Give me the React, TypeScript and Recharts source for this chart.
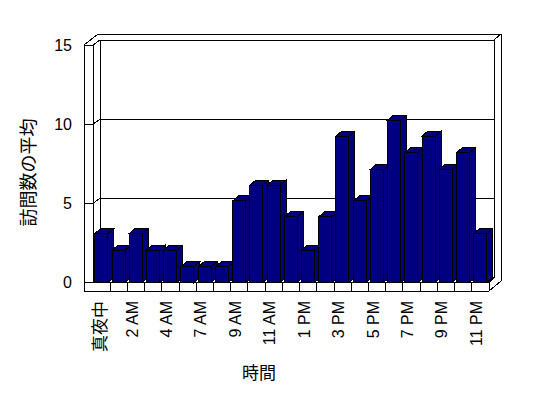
import React from 'react'
import { BarChart, Bar, XAxis, YAxis, ReferenceLine } from 'recharts'

// 時間帯 (6 AM は元データに無い)
const HOURS = [
  '真夜中', '1 AM', '2 AM', '3 AM', '4 AM', '5 AM', '7 AM', '8 AM', '9 AM', '10 AM', '11 AM', '正午',
  '1 PM', '2 PM', '3 PM', '4 PM', '5 PM', '6 PM', '7 PM', '8 PM', '9 PM', '10 PM', '11 PM',
]
const VISITS = [
  3.1, 2.05, 3.1, 2.05, 2.05, 1.0, 1.0, 1.0, 5.15, 6.15, 6.15, 4.15,
  2.05, 4.15, 9.25, 5.15, 7.15, 10.25, 8.2, 9.25, 7.15, 8.2, 3.1,
]
const Y_TICKS = [0, 5, 10, 15]

const data = HOURS.map((hour, i) => ({ hour, value: VISITS[i] }))

const W = 548
const H = 398
const PLOT = { left: 93, top: 45, right: 489, bottom: 282.5 }
const NAVY = '#000080'
const FONT = "'Liberation Sans', Arial, 'Noto Sans CJK JP', sans-serif"
const WALL = 9 // left wall thickness
const DX = 7
const DY = 5

const Bar3D = (props: any) => {
  const { x, y, width, height } = props
  if (!height || height <= 0) return null
  const dx = 6
  const dy = 5
  return (
    <g stroke="#000" strokeWidth={1} fill={NAVY} shapeRendering="crispEdges">
      <polygon points={`${x},${y} ${x + dx},${y - dy} ${x + width + dx},${y - dy} ${x + width},${y}`} />
      <polygon
        points={`${x + width},${y} ${x + width + dx},${y - dy} ${x + width + dx},${y + height - dy} ${x + width},${y + height}`}
      />
      <rect x={x} y={y} width={width} height={height} />
    </g>
  )
}

// gridline on the back wall + tick on the left wall
const level = (v: number) => (props: any) => {
  const { x1, x2, y1 } = props
  const y = y1
  const lines: Array<[number, number, number, number]> = [
    [x1 - WALL, y, x1, y],
    [x1, y, x1 + DX, y - DY],
    [x1 + DX, y - DY, x2 + 5, y - DY],
  ]
  if (v === 15) {
    lines.push(
      [x1 - WALL, y, x1 + 5, y - 11],
      [x1 + 5, y - 11, x2 + 12, y - 11],
      [x2 + 5, y - DY, x2 + 12, y - 11],
      [x1 - WALL, y, x1 - WALL, PLOT.bottom + 8.5],
      [x1, y, x1, PLOT.bottom],
      [x1 + DX, y - DY, x1 + DX, PLOT.bottom - DY],
      [x2 + 5, y - DY, x2 + 5, PLOT.bottom - DY],
      [x2 + 12, y - 11, x2 + 12, PLOT.bottom - 1.5],
    )
  }
  if (v === 0) {
    lines.push(
      [x1, y, x2, y],
      [x1 - WALL, y + 8.5, x2, y + 8.5],
      [x2, y, x2, y + 8.5],
      [x2, y + 8.5, x2 + 12, y - 1.5],
      [x2, y, x2 + 5, y - DY],
    )
  }
  return (
    <g stroke="#000" strokeWidth={1} shapeRendering="crispEdges">
      {lines.map((l, i) => (
        <line key={i} x1={l[0]} y1={l[1]} x2={l[2]} y2={l[3]} />
      ))}
    </g>
  )
}

const band = (PLOT.right - PLOT.left) / HOURS.length

const HourTick = (props: any) => {
  const { x, y, payload, index } = props
  const cjk = /[^\x00-\x7f]/.test(String(payload.value))
  const tx = x - (cjk ? 1 : 4)
  const ty = y + 18.5
  return (
    <g>
      {index > 0 && (
        <line
          x1={x - band / 2}
          y1={y}
          x2={x - band / 2}
          y2={y + 8.5}
          stroke="#000"
          shapeRendering="crispEdges"
        />
      )}
      {index % 2 === 0 && (
        <text
          x={tx}
          y={ty}
          transform={`rotate(-90 ${tx} ${ty})`}
          textAnchor="end"
          dominantBaseline="central"
          fontSize={cjk ? 17 : 16}
          fontFamily={FONT}
          fill="#000"
        >
          {payload.value}
        </text>
      )}
    </g>
  )
}

export default function App() {
  return (
    <div style={{ position: 'absolute', left: 0, top: 0, width: W, height: H, background: '#fff' }}>
      <BarChart
        width={W}
        height={H}
        data={data}
        barCategoryGap="11%"
        margin={{ top: PLOT.top, right: W - PLOT.right, left: 0, bottom: 15.5 }}
      >
        {Y_TICKS.map((v) => (
          <ReferenceLine key={v} y={v} shape={level(v)} zIndex={-50} ifOverflow="visible" />
        ))}
        <XAxis
          dataKey="hour"
          interval={0}
          axisLine={false}
          tickLine={false}
          tickSize={0}
          tickMargin={0}
          height={H - PLOT.bottom - 15.5}
          tick={<HourTick />}
        />
        <YAxis
          domain={[0, 15]}
          ticks={Y_TICKS}
          width={PLOT.left}
          axisLine={false}
          tickLine={false}
          tickSize={0}
          tickMargin={21}
          tick={{ fill: '#000', fontSize: 16, fontFamily: FONT }}
        />
        <Bar dataKey="value" fill={NAVY} shape={Bar3D} isAnimationActive={false} />
      </BarChart>
      <svg width={W} height={H} style={{ position: 'absolute', left: 0, top: 0, pointerEvents: 'none' }}>
        <text
          x={28.7}
          y={172.5}
          transform="rotate(-90 28.7 172.5)"
          textAnchor="middle"
          dominantBaseline="central"
          fontSize={18}
          fontFamily={FONT}
        >
          訪問数の平均
        </text>
        <text x={259} y={373} textAnchor="middle" dominantBaseline="central" fontSize={17} fontFamily={FONT}>
          時間
        </text>
      </svg>
    </div>
  )
}
